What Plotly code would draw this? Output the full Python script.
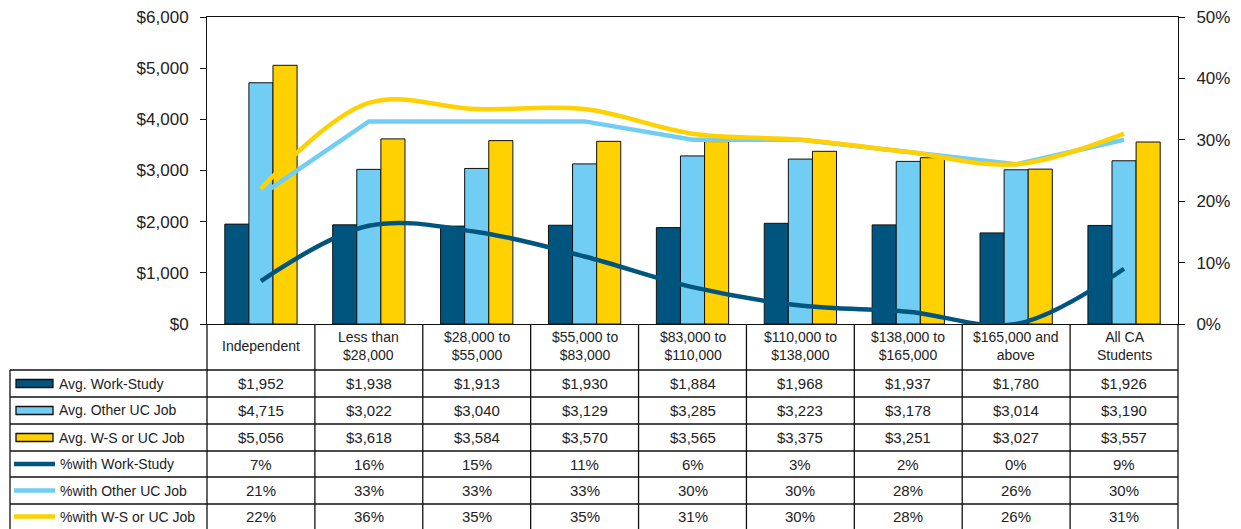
import plotly.graph_objects as go

categories = ["Independent", "Less than<br>$28,000", "$28,000 to<br>$55,000", "$55,000 to<br>$83,000",
              "$83,000 to<br>$110,000", "$110,000 to<br>$138,000", "$138,000 to<br>$165,000",
              "$165,000 and<br>above", "All CA<br>Students"]
avg_work_study = [1952, 1938, 1913, 1930, 1884, 1968, 1937, 1780, 1926]
avg_other_uc = [4715, 3022, 3040, 3129, 3285, 3223, 3178, 3014, 3190]
avg_ws_or_uc = [5056, 3618, 3584, 3570, 3565, 3375, 3251, 3027, 3557]
pct_work_study = [7, 16, 15, 11, 6, 3, 2, 0, 9]
pct_other_uc = [21, 33, 33, 33, 30, 30, 28, 26, 30]
pct_ws_or_uc = [22, 36, 35, 35, 31, 30, 28, 26, 31]

series_names = ["Avg. Work-Study", "Avg. Other UC Job", "Avg. W-S or UC Job",
                "%with Work-Study", "%with Other UC Job", "%with W-S or UC Job"]

DARK = "#00557F"
LIGHT = "#72CDF4"
YELLOW = "#FFD100"
TXT = "#222222"

OFF = 8  # page body margin
W, H = 1241, 529
L, R, T, B = 207 - OFF, 1178 - OFF, 17 - OFF, 324 - OFF
PW, PH = R - L, B - T

def py(p):
    return (B - (p - OFF)) / PH

def px(p):
    return ((p - OFF) - L) / PW

idx = list(range(len(categories)))

fig = go.Figure()
for vals, col, nm in [(avg_work_study, DARK, series_names[0]), (avg_other_uc, LIGHT, series_names[1]),
                      (avg_ws_or_uc, YELLOW, series_names[2])]:
    fig.add_trace(go.Bar(x=idx, y=vals, name=nm, marker=dict(color=col, line=dict(color="#111", width=1))))

for vals, col, nm, shape in [(pct_work_study, DARK, series_names[3], "spline"),
                             (pct_other_uc, LIGHT, series_names[4], "linear"),
                             (pct_ws_or_uc, YELLOW, series_names[5], "spline")]:
    fig.add_trace(go.Scatter(x=idx, y=[v / 100 for v in vals], name=nm, yaxis="y2", mode="lines",
                             line=dict(color=col, width=4.5, shape=shape)))

shapes = []
annotations = []
line_style = dict(color="#111", width=1.3)

SL, SR, SB = 207, 1178, 324
ncat = len(categories)
for i in range(ncat + 1):
    x0 = SL + i * (SR - SL) / ncat
    shapes.append(dict(type="line", xref="paper", yref="paper", x0=px(x0), x1=px(x0),
                       y0=py(SB), y1=py(H + 10), line=line_style))
shapes.append(dict(type="line", xref="paper", yref="paper", x0=px(10), x1=px(10),
                   y0=py(370), y1=py(H + 10), line=line_style))
row_lines = [370, 397, 424, 451, 477, 504]
for yl in row_lines:
    shapes.append(dict(type="line", xref="paper", yref="paper", x0=px(10), x1=px(SR),
                       y0=py(yl), y1=py(yl), line=line_style))

lfont = dict(family="Liberation Sans Narrow, Arial Narrow, Liberation Sans, Arial", size=14, color=TXT)
vfont = dict(family="Liberation Sans, Arial", size=15, color=TXT)

for i, c in enumerate(categories):
    annotations.append(dict(x=i, xref="x", y=py(346), yref="paper", text=c, showarrow=False,
                            font=lfont, align="center", yanchor="middle"))

row_centers = [383.5, 410.5, 437.5, 464, 490.5, 516.5]
row_data = [avg_work_study, avg_other_uc, avg_ws_or_uc, pct_work_study, pct_other_uc, pct_ws_or_uc]
row_cols = [DARK, LIGHT, YELLOW, DARK, LIGHT, YELLOW]
for r, (vals, yc) in enumerate(zip(row_data, row_centers)):
    for i, v in enumerate(vals):
        txt = f"${v:,}" if r < 3 else f"{v}%"
        annotations.append(dict(x=i, xref="x", y=py(yc), yref="paper", text=txt, showarrow=False,
                                font=vfont, yanchor="middle"))
    if r < 3:
        shapes.append(dict(type="rect", xref="paper", yref="paper", x0=px(16), x1=px(53),
                           y0=py(yc - 4), y1=py(yc + 4), fillcolor=row_cols[r],
                           line=dict(color="#111", width=1.3)))
        tx = 57
    else:
        shapes.append(dict(type="line", xref="paper", yref="paper", x0=px(14), x1=px(55),
                           y0=py(yc), y1=py(yc), line=dict(color=row_cols[r], width=4.5)))
        tx = 58
    annotations.append(dict(x=px(tx), xref="paper", y=py(yc), yref="paper", text=series_names[r],
                            showarrow=False, font=lfont, xanchor="left", yanchor="middle"))

fig.update_layout(
    width=W, height=H,
    margin=dict(l=L, r=W - R, t=T, b=H - B, autoexpand=False),
    paper_bgcolor="white", plot_bgcolor="white",
    showlegend=False,
    barmode="group", bargap=0.33, bargroupgap=0,
    xaxis=dict(range=[-0.5, ncat - 0.5], showticklabels=False, showgrid=False, automargin=False,
               showline=True, mirror=True, linecolor="#111", linewidth=1, ticks="", zeroline=False),
    yaxis=dict(range=[0, 6000], dtick=1000, tickprefix="$", tickformat=",d", showgrid=False,
               showline=True, linecolor="#111", linewidth=1, ticks="outside", ticklen=6,
               tickcolor="#111", zeroline=False, ticklabeloverflow="allow", automargin=False,
               ticklabelstandoff=8,
               tickfont=dict(family="Liberation Sans, Arial", size=17, color=TXT)),
    yaxis2=dict(range=[0, 0.5], dtick=0.1, tickformat=".0%", overlaying="y", side="right",
                showgrid=False, showline=True, linecolor="#111", linewidth=1, ticks="outside",
                ticklen=6, tickcolor="#111", zeroline=False, ticklabeloverflow="allow",
                automargin=False, ticklabelstandoff=8,
                tickfont=dict(family="Liberation Sans, Arial", size=17, color=TXT)),
    shapes=shapes, annotations=annotations,
)

fig.write_html("out.html")
